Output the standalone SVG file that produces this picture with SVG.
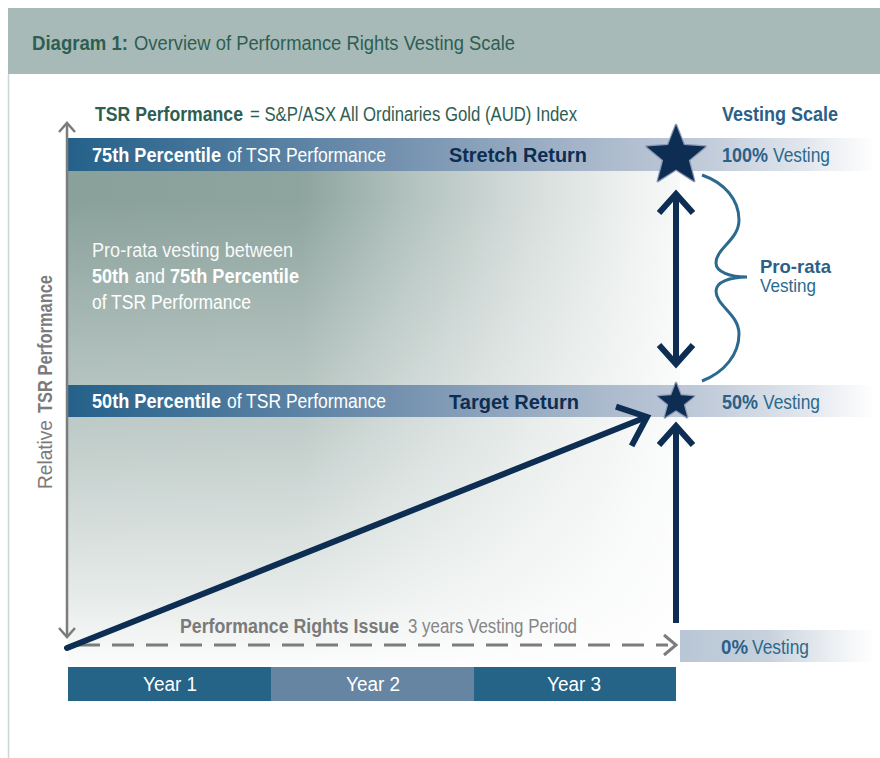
<svg xmlns="http://www.w3.org/2000/svg" width="880" height="758" viewBox="0 0 880 758">
<style>
text{font-family:"Liberation Sans Narrow","Liberation Sans",Arial,sans-serif;}
.b{font-weight:bold;}
.wt{fill:#ffffff;font-size:20px;}
.ret{fill:#0d2d52;font-size:21px;font-weight:bold;}
.ves{fill:#2b6a8e;font-size:20px;}
.vesb{fill:#2b6088;font-size:20px;font-weight:bold;}
.yr{fill:#ffffff;font-size:20px;text-anchor:middle;}
.nav{stroke:#0d2d52;stroke-width:6;fill:none;}
.gray{stroke:#7c7c7c;fill:none;}
.star{fill:#0d2d52;stroke:#8b98b6;stroke-width:2.5;stroke-linejoin:round;paint-order:stroke;}
</style>
<defs>
<linearGradient id="hg" x1="68" y1="0" x2="680" y2="0" gradientUnits="userSpaceOnUse">
<stop offset="0" stop-color="#8aa19b"/>
<stop offset="0.38" stop-color="#8ea49e"/>
<stop offset="0.55" stop-color="#b1c1bd"/>
<stop offset="0.75" stop-color="#d5dddb"/>
<stop offset="0.92" stop-color="#eef1f0"/>
<stop offset="1" stop-color="#f8f9f9"/>
</linearGradient>
<linearGradient id="vg" x1="0" y1="138" x2="0" y2="665" gradientUnits="userSpaceOnUse">
<stop offset="0" stop-color="#ffffff" stop-opacity="0"/>
<stop offset="0.12" stop-color="#ffffff" stop-opacity="0"/>
<stop offset="0.4" stop-color="#ffffff" stop-opacity="0.3"/>
<stop offset="0.6" stop-color="#ffffff" stop-opacity="0.5"/>
<stop offset="0.88" stop-color="#ffffff" stop-opacity="0.8"/>
<stop offset="1" stop-color="#ffffff" stop-opacity="0.97"/>
</linearGradient>
<linearGradient id="bg" x1="68" y1="0" x2="875" y2="0" gradientUnits="userSpaceOnUse">
<stop offset="0" stop-color="#24618a"/>
<stop offset="0.4" stop-color="#7290ae"/>
<stop offset="0.66" stop-color="#aab9cc"/>
<stop offset="0.8" stop-color="#c3cddb"/>
<stop offset="0.92" stop-color="#e4e8ee"/>
<stop offset="1" stop-color="#ffffff"/>
</linearGradient>
<linearGradient id="zg" x1="680" y1="0" x2="875" y2="0" gradientUnits="userSpaceOnUse">
<stop offset="0" stop-color="#b8c6d5"/>
<stop offset="0.45" stop-color="#c7d1dd"/>
<stop offset="0.8" stop-color="#eef1f4"/>
<stop offset="1" stop-color="#ffffff"/>
</linearGradient>
</defs>

<rect width="880" height="758" fill="#ffffff"/>

<g id="header">
<rect x="8" y="8" width="872" height="66" fill="#a8bab7"/>
<line x1="8.5" y1="74" x2="8.5" y2="758" stroke="#c9d6d3" stroke-width="1.5"/>
<text x="32" y="50" font-size="20" class="b" fill="#2e5e52" textLength="96" lengthAdjust="spacingAndGlyphs">Diagram 1:</text>
<text x="134" y="50" font-size="20" fill="#2e5e52" textLength="381" lengthAdjust="spacingAndGlyphs">Overview of Performance Rights Vesting Scale</text>
</g>

<g id="panel">
<rect x="68" y="138" width="612" height="527" fill="url(#hg)"/>
<rect x="68" y="138" width="612" height="527" fill="url(#vg)"/>
<text x="92" y="257" class="wt" fill-opacity="0.95" textLength="201" lengthAdjust="spacingAndGlyphs">Pro-rata vesting between</text>
<text x="92" y="283" class="wt b" textLength="37" lengthAdjust="spacingAndGlyphs">50th</text>
<text x="135" y="283" class="wt" textLength="30" lengthAdjust="spacingAndGlyphs">and</text>
<text x="170" y="283" class="wt b" textLength="129" lengthAdjust="spacingAndGlyphs">75th Percentile</text>
<text x="92" y="309" class="wt" textLength="159" lengthAdjust="spacingAndGlyphs">of TSR Performance</text>
</g>

<g id="tsr-title">
<text x="95" y="121" font-size="20" class="b" fill="#2e5e52" textLength="148" lengthAdjust="spacingAndGlyphs">TSR Performance</text>
<text x="250" y="121" font-size="20" fill="#2e5e52" textLength="327" lengthAdjust="spacingAndGlyphs">= S&amp;P/ASX All Ordinaries Gold (AUD) Index</text>
</g>
<g id="vesting-scale-title">
<text x="722" y="121" font-size="20" class="b" fill="#2b6088" textLength="116" lengthAdjust="spacingAndGlyphs">Vesting Scale</text>
</g>

<g id="band-75">
<rect x="68" y="138" width="807" height="33" fill="url(#bg)"/>
<text x="92" y="162" class="wt b" textLength="129" lengthAdjust="spacingAndGlyphs">75th Percentile</text>
<text x="227" y="162" class="wt" textLength="159" lengthAdjust="spacingAndGlyphs">of TSR Performance</text>
<text x="449" y="162" class="ret" textLength="138" lengthAdjust="spacingAndGlyphs">Stretch Return</text>
<text x="722" y="162" class="vesb" textLength="46" lengthAdjust="spacingAndGlyphs">100%</text>
<text x="773" y="162" class="ves" textLength="57" lengthAdjust="spacingAndGlyphs">Vesting</text>
</g>

<g id="band-50">
<rect x="68" y="385" width="807" height="32" fill="url(#bg)"/>
<text x="92" y="408" class="wt b" textLength="129" lengthAdjust="spacingAndGlyphs">50th Percentile</text>
<text x="227" y="408" class="wt" textLength="159" lengthAdjust="spacingAndGlyphs">of TSR Performance</text>
<text x="449" y="409" class="ret" textLength="130" lengthAdjust="spacingAndGlyphs">Target Return</text>
<text x="722" y="409" class="vesb" textLength="36" lengthAdjust="spacingAndGlyphs">50%</text>
<text x="763" y="409" class="ves" textLength="57" lengthAdjust="spacingAndGlyphs">Vesting</text>
</g>

<g id="band-0">
<rect x="680" y="630" width="195" height="32" fill="url(#zg)"/>
<text x="721" y="654" class="vesb" textLength="27" lengthAdjust="spacingAndGlyphs">0%</text>
<text x="752" y="654" class="ves" textLength="57" lengthAdjust="spacingAndGlyphs">Vesting</text>
</g>

<g id="axis-label">
<text transform="translate(52,489) rotate(-90)" x="0" y="0" font-size="20" fill="#7b7b7b" textLength="69" lengthAdjust="spacingAndGlyphs">Relative</text>
<text transform="translate(52,413) rotate(-90)" x="0" y="0" font-size="20" class="b" fill="#7b7b7b" textLength="138" lengthAdjust="spacingAndGlyphs">TSR Performance</text>
</g>

<g id="period-label">
<text x="180" y="633" font-size="20" class="b" fill="#7a7a7a" textLength="219" lengthAdjust="spacingAndGlyphs">Performance Rights Issue</text>
<text x="408" y="633" font-size="20" fill="#868686" textLength="169" lengthAdjust="spacingAndGlyphs">3 years Vesting Period</text>
</g>

<g id="years">
<rect x="68" y="667" width="203" height="34" fill="#256387"/>
<rect x="271" y="667" width="203" height="34" fill="#6685a3"/>
<rect x="474" y="667" width="202" height="34" fill="#256387"/>
<text x="170" y="691" class="yr" textLength="54" lengthAdjust="spacingAndGlyphs">Year 1</text>
<text x="373" y="691" class="yr" textLength="54" lengthAdjust="spacingAndGlyphs">Year 2</text>
<text x="574" y="691" class="yr" textLength="54" lengthAdjust="spacingAndGlyphs">Year 3</text>
</g>

<g id="connectors">
<line x1="67" y1="124" x2="67" y2="636" class="gray" stroke-width="2.5"/>
<polyline points="59,132 67,123 75,132" class="gray" stroke-width="2.5"/>
<polyline points="59,628 67,637 75,628" class="gray" stroke-width="2.5"/>
<line x1="78" y1="645" x2="668" y2="645" class="gray" stroke-width="3" stroke-dasharray="22 12"/>
<polyline points="664,635 676,645 664,655" class="gray" stroke-width="3"/>
<line x1="67" y1="648" x2="644" y2="418" class="nav" stroke-linecap="round"/>
<polyline points="616,406.7 647,417 631.6,445.8" class="nav"/>
<line x1="676" y1="623" x2="676" y2="428" class="nav"/>
<polyline points="659,445 676,426 693,445" class="nav"/>
<line x1="676" y1="196" x2="676" y2="362" class="nav"/>
<polyline points="659,213 676,194 693,213" class="nav"/>
<polyline points="659,345 676,364 693,345" class="nav"/>
<path d="M702,175 C725,183 739,200 739,220 C739,240 716,248 716,263 C716,272 730,277 747,277 C730,277 716,282 716,291 C716,306 739,314 739,334 C739,354 725,372 702,381" fill="none" stroke="#2b6a8e" stroke-width="3"/>
</g>

<g id="star-100">
<polygon class="star" points="676,125 683.94,145.08 705.48,146.42 688.84,160.17 694.22,181.08 676,169.5 657.78,181.08 663.16,160.17 646.52,146.42 668.06,145.08"/>
</g>
<g id="star-50">
<polygon class="star" points="676,383 680.82,395.37 694.07,396.13 683.8,404.53 687.17,417.37 676,410.2 664.83,417.37 668.2,404.53 657.93,396.13 671.18,395.37"/>
</g>

<g id="pro-rata-label">
<text x="760" y="273" font-size="19" class="b" fill="#2b6088" textLength="71" lengthAdjust="spacingAndGlyphs">Pro-rata</text>
<text x="760" y="292" font-size="19" fill="#2b6a8e" textLength="56" lengthAdjust="spacingAndGlyphs">Vesting</text>
</g>
</svg>
